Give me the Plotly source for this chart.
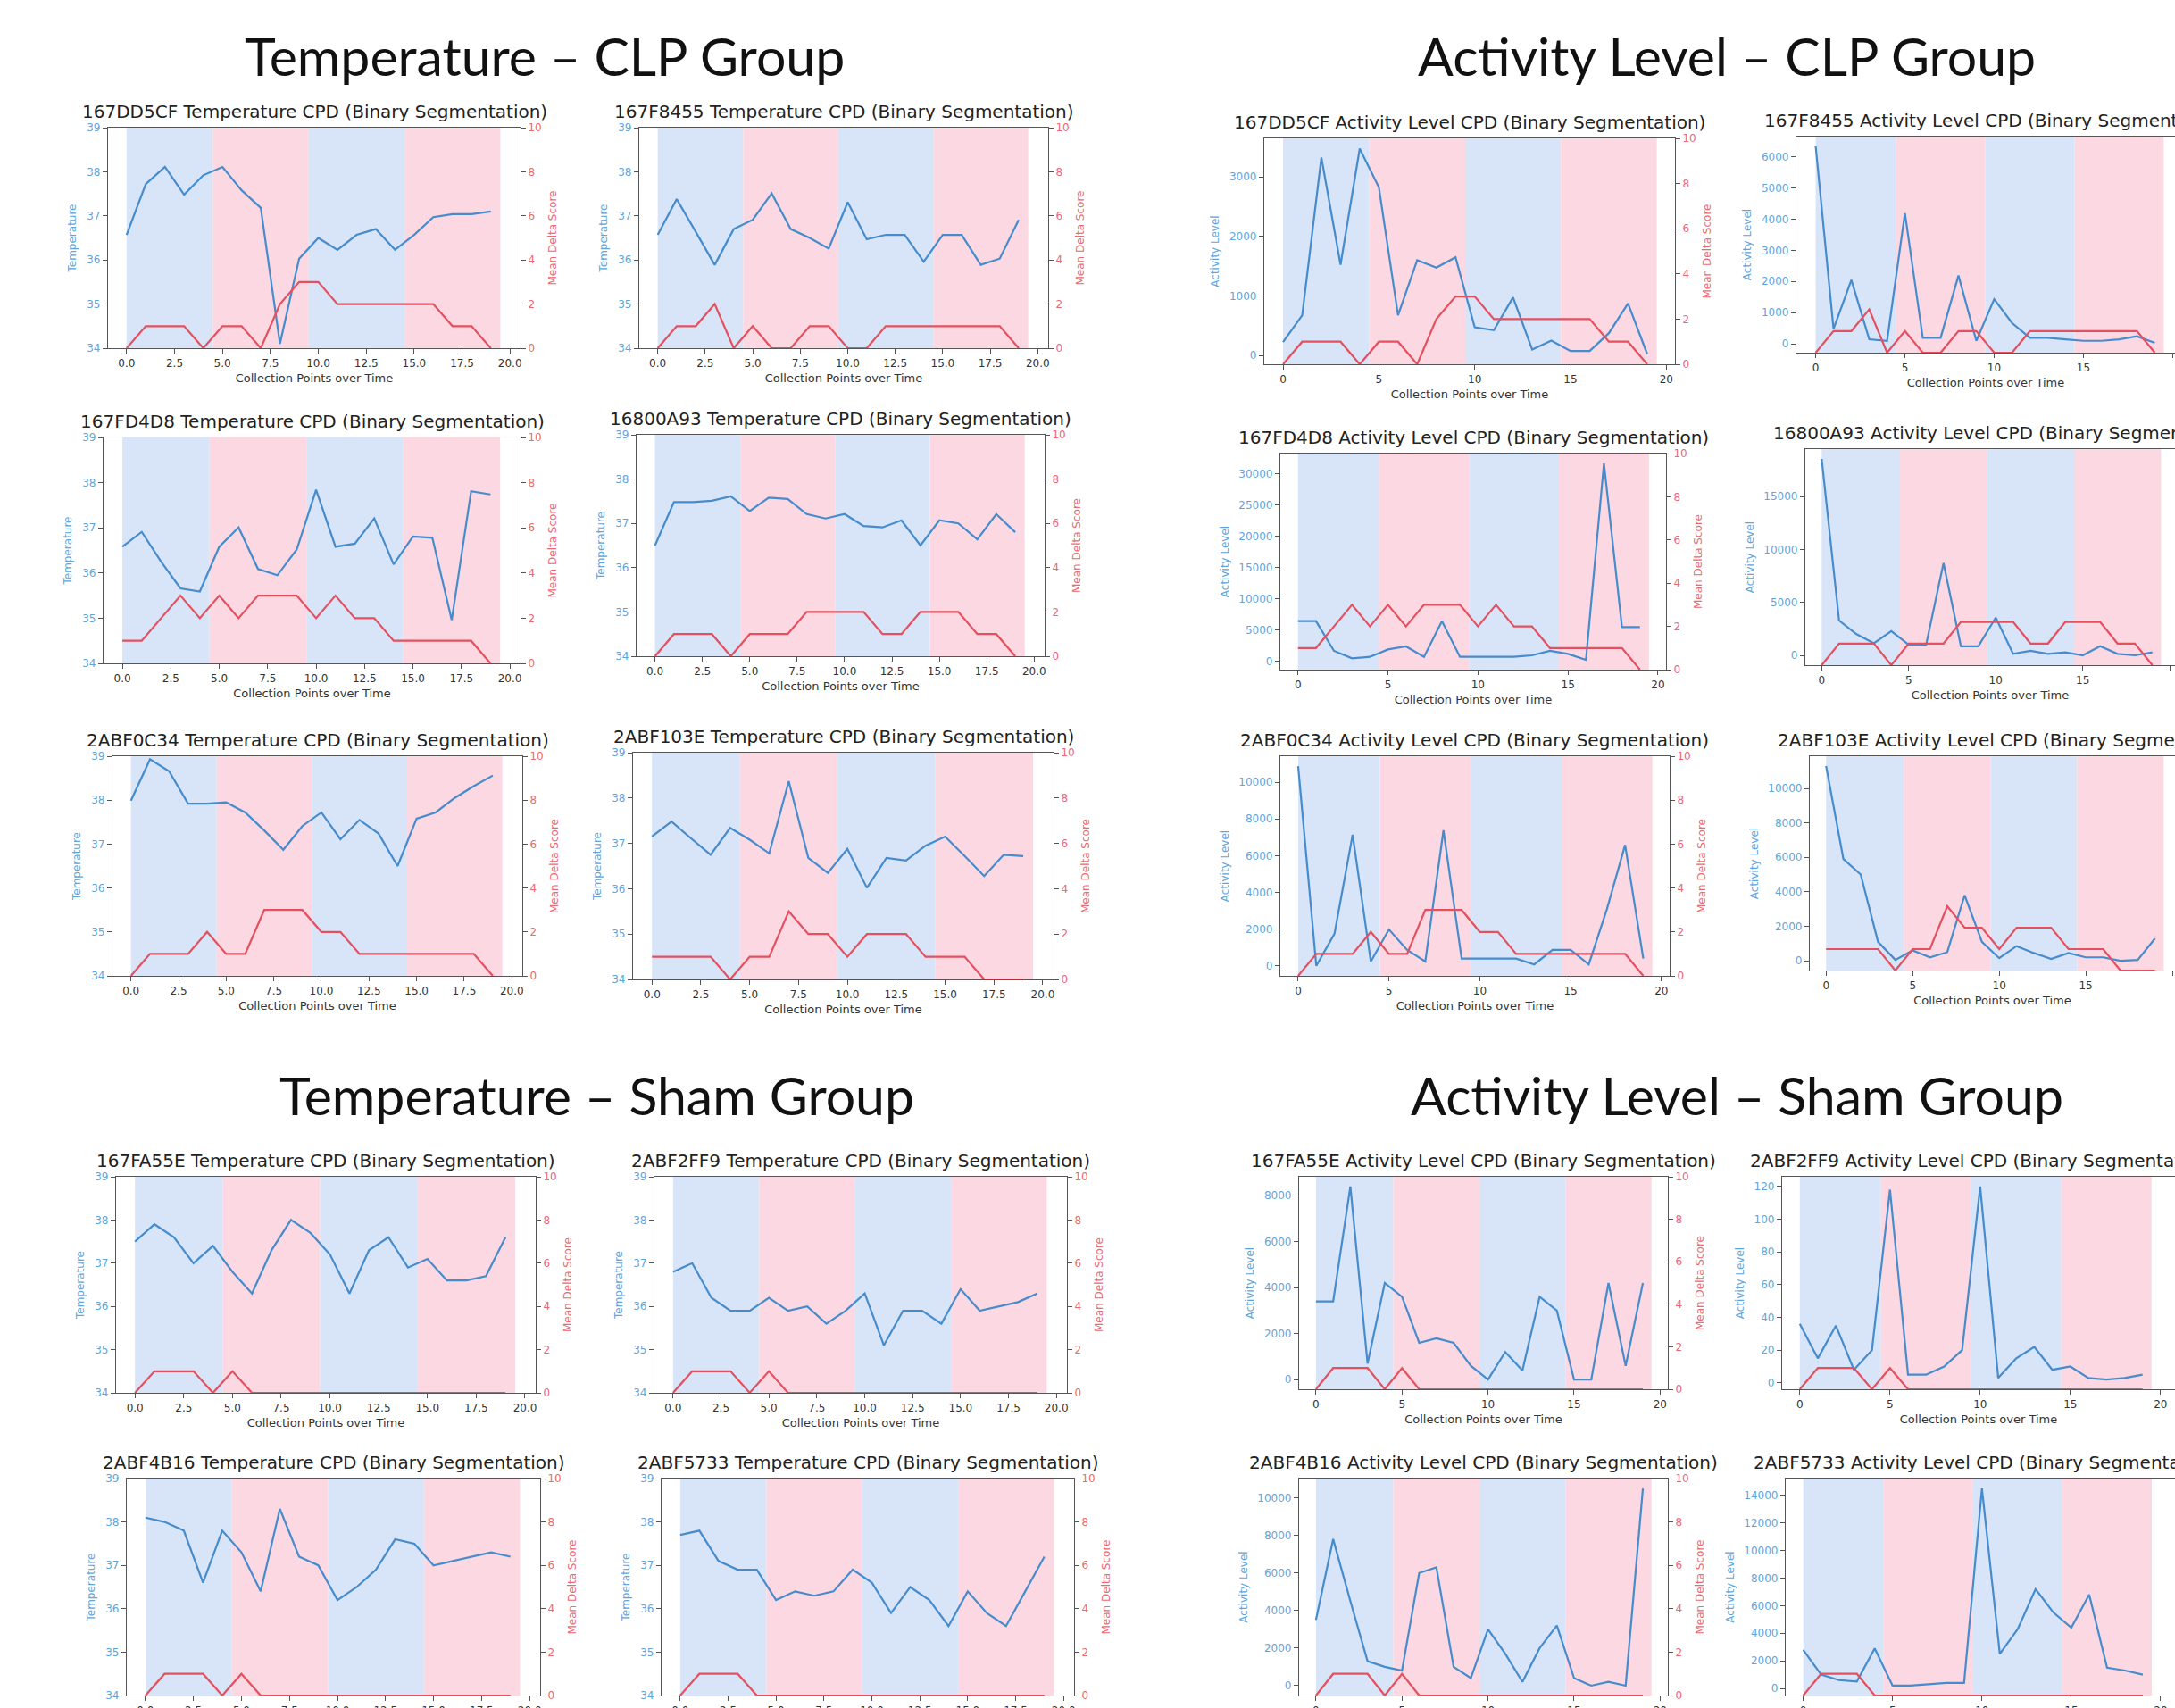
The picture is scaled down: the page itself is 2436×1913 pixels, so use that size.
import plotly.graph_objects as go

W, H = 2436, 1913

# ---------------- data ----------------
collection_points = [0, 1, 2, 3, 4, 5, 6, 7, 8, 9, 10, 11, 12, 13, 14, 15, 16, 17, 18, 19]
segment_edges = [0, 4.5, 9.5, 14.5, 19.5]

# mean delta score per mouse (shared by its temperature & activity plots)
score_167DD5CF = [0, 1, 1, 1, 0, 1, 1, 0, 2, 3, 3, 2, 2, 2, 2, 2, 2, 1, 1, 0]
score_167F8455 = [0, 1, 1, 2, 0, 1, 0, 0, 1, 1, 0, 0, 1, 1, 1, 1, 1, 1, 1, 0]
score_167FD4D8 = [1, 1, 2, 3, 2, 3, 2, 3, 3, 3, 2, 3, 2, 2, 1, 1, 1, 1, 1, 0]
score_16800A93 = [0, 1, 1, 1, 0, 1, 1, 1, 2, 2, 2, 2, 1, 1, 2, 2, 2, 1, 1, 0]
score_2ABF0C34 = [0, 1, 1, 1, 2, 1, 1, 3, 3, 3, 2, 2, 1, 1, 1, 1, 1, 1, 1, 0]
score_2ABF103E = [1, 1, 1, 1, 0, 1, 1, 3, 2, 2, 1, 2, 2, 2, 1, 1, 1, 0, 0, 0]
score_167FA55E = [0, 1, 1, 1, 0, 1, 0, 0, 0, 0, 0, 0, 0, 0, 0, 0, 0, 0, 0, 0]
score_2ABF2FF9 = [0, 1, 1, 1, 0, 1, 0, 0, 0, 0, 0, 0, 0, 0, 0, 0, 0, 0, 0, 0]
score_2ABF4B16 = [0, 1, 1, 1, 0, 1, 0, 0, 0, 0, 0, 0, 0, 0, 0, 0, 0, 0, 0, 0]
score_2ABF5733 = [0, 1, 1, 1, 0, 0, 0, 0, 0, 0, 0, 0, 0, 0, 0, 0, 0, 0, 0, 0]

# temperature
temp_167DD5CF = [36.57, 37.72, 38.11, 37.48, 37.92, 38.11, 37.58, 37.18, 34.10, 36.03,
                 36.50, 36.23, 36.57, 36.70, 36.23, 36.57, 36.97, 37.04, 37.04, 37.10]
temp_167F8455 = [36.57, 37.38, 36.64, 35.89, 36.70, 36.91, 37.51, 36.70, 36.50, 36.26,
                 37.31, 36.47, 36.57, 36.57, 35.96, 36.57, 36.57, 35.89, 36.03, 36.91]
temp_167FD4D8 = [36.58, 36.91, 36.25, 35.66, 35.59, 36.58, 37.01, 36.09, 35.95, 36.52,
                 37.84, 36.58, 36.65, 37.21, 36.19, 36.81, 36.78, 34.96, 37.81, 37.74]
temp_16800A93 = [36.50, 37.48, 37.48, 37.51, 37.61, 37.28, 37.58, 37.55, 37.21, 37.11,
                 37.21, 36.94, 36.91, 37.07, 36.50, 37.07, 37.00, 36.64, 37.21, 36.80]
temp_2ABF0C34 = [37.99, 38.93, 38.66, 37.92, 37.92, 37.95, 37.72, 37.31, 36.87, 37.41,
                 37.72, 37.11, 37.55, 37.24, 36.50, 37.58, 37.72, 38.05, 38.32, 38.56]
temp_2ABF103E = [37.15, 37.48, 37.11, 36.75, 37.34, 37.08, 36.78, 38.37, 36.68, 36.35,
                 36.88, 36.02, 36.68, 36.62, 36.95, 37.15, 36.72, 36.28, 36.75, 36.72]
temp_167FA55E = [37.5, 37.9, 37.6, 37.0, 37.4, 36.8, 36.3, 37.3, 38.0, 37.7,
                 37.2, 36.3, 37.3, 37.6, 36.9, 37.1, 36.6, 36.6, 36.7, 37.6]
temp_2ABF2FF9 = [36.8, 37.0, 36.2, 35.9, 35.9, 36.2, 35.9, 36.0, 35.6, 35.9,
                 36.3, 35.1, 35.9, 35.9, 35.6, 36.4, 35.9, 36.0, 36.1, 36.3]
temp_2ABF4B16 = [38.1, 38.0, 37.8, 36.6, 37.8, 37.3, 36.4, 38.3, 37.2, 37.0,
                 36.2, 36.5, 36.9, 37.6, 37.5, 37.0, 37.1, 37.2, 37.3, 37.2]
temp_2ABF5733 = [37.7, 37.8, 37.1, 36.9, 36.9, 36.2, 36.4, 36.3, 36.4, 36.9,
                 36.6, 35.9, 36.5, 36.2, 35.6, 36.4, 35.9, 35.6, 36.4, 37.2]

# activity level
act_167DD5CF = [225, 675, 3325, 1525, 3475, 2825, 675, 1600, 1475, 1650,
                475, 425, 975, 100, 250, 75, 75, 375, 875, 25]
act_167F8455 = [6333, 476, 2048, 143, 95, 4190, 190, 190, 2190, 95,
                1430, 667, 190, 190, 143, 95, 95, 143, 238, 30]
act_167FD4D8 = [6430, 6430, 1670, 476, 714, 1900, 2380, 714, 6430, 714,
                714, 714, 714, 950, 1670, 1190, 240, 31670, 5480, 5480]
act_16800A93 = [18570, 3290, 2000, 1140, 2290, 1000, 1000, 8710, 860, 860,
                3570, 140, 430, 140, 290, 0, 860, 140, 0, 290]
act_2ABF0C34 = [10873, 0, 1746, 7143, 238, 1984, 873, 238, 7381, 397,
                397, 397, 397, 79, 873, 873, 79, 3095, 6587, 397]
act_2ABF103E = [11300, 5900, 5000, 1100, 50, 600, 200, 500, 3800, 1100,
                150, 850, 450, 100, 450, 200, 200, 0, 50, 1300]
act_167FA55E = [3400, 3400, 8400, 700, 4200, 3600, 1600, 1800, 1600, 600,
                0, 1200, 400, 3600, 3000, 0, 0, 4200, 600, 4200]
act_2ABF2FF9 = [36, 15, 35, 8, 20, 118, 5, 5, 10, 20,
                120, 3, 15, 22, 8, 10, 3, 2, 3, 5]
act_2ABF4B16 = [3500, 7800, 4500, 1300, 1000, 800, 6000, 6300, 1000, 400,
                3000, 1700, 200, 2000, 3200, 400, 0, 200, 0, 10500]
act_2ABF5733 = [2800, 1000, 600, 500, 2900, 200, 200, 300, 400, 400,
                14500, 2500, 4300, 7200, 5500, 4400, 6800, 1500, 1300, 1000]

# ---------------- style ----------------
BLUE_LINE = "rgb(70,140,205)"
RED_LINE = "rgb(228,80,95)"
BLUE_TXT = "rgb(95,165,220)"
RED_TXT = "rgb(235,105,115)"
BLUE_BG = "rgb(216,228,248)"
PINK_BG = "rgb(252,216,226)"
SPINE = "rgb(85,85,85)"
FONT = "DejaVu Sans"

# (mouse, values, score, kind, box l,t,r,b px, x-range, cut at right edge, y tick step)
panels = [
    ("167DD5CF", temp_167DD5CF, score_167DD5CF, "temp", (121, 143, 583, 390), [-0.97, 20.55], False, 1),
    ("167F8455", temp_167F8455, score_167F8455, "temp", (716, 143, 1174, 390), [-0.97, 20.55], False, 1),
    ("167FD4D8", temp_167FD4D8, score_167FD4D8, "temp", (116, 490, 583, 743), [-0.97, 20.55], False, 1),
    ("16800A93", temp_16800A93, score_16800A93, "temp", (713, 487, 1170, 735), [-0.97, 20.55], False, 1),
    ("2ABF0C34", temp_2ABF0C34, score_2ABF0C34, "temp", (126, 847, 585, 1093), [-0.97, 20.55], False, 1),
    ("2ABF103E", temp_2ABF103E, score_2ABF103E, "temp", (709, 843, 1180, 1097), [-0.97, 20.55], False, 1),
    ("167DD5CF", act_167DD5CF, score_167DD5CF, "act", (1416, 155, 1876, 408), [-0.98, 20.45], False, 1000),
    ("167F8455", act_167F8455, score_167F8455, "act", (2012, 153, 2436, 395), [-1.08, 20.13], True, 1000),
    ("167FD4D8", act_167FD4D8, score_167FD4D8, "act", (1434, 508, 1866, 750), [-0.98, 20.45], False, 5000),
    ("16800A93", act_16800A93, score_16800A93, "act", (2022, 503, 2436, 745), [-0.94, 20.3], True, 5000),
    ("2ABF0C34", act_2ABF0C34, score_2ABF0C34, "act", (1434, 847, 1870, 1093), [-0.98, 20.45], False, 2000),
    ("2ABF103E", act_2ABF103E, score_2ABF103E, "act", (2027, 847, 2436, 1087), [-0.94, 20.15], True, 2000),
    ("167FA55E", temp_167FA55E, score_167FA55E, "temp", (130, 1318, 600, 1560), [-0.97, 20.55], False, 1),
    ("2ABF2FF9", temp_2ABF2FF9, score_2ABF2FF9, "temp", (733, 1318, 1195, 1560), [-0.97, 20.55], False, 1),
    ("2ABF4B16", temp_2ABF4B16, score_2ABF4B16, "temp", (142, 1656, 605, 1899), [-0.97, 20.55], False, 1),
    ("2ABF5733", temp_2ABF5733, score_2ABF5733, "temp", (741, 1656, 1203, 1899), [-0.97, 20.55], False, 1),
    ("167FA55E", act_167FA55E, score_167FA55E, "act", (1455, 1318, 1868, 1556), [-0.98, 20.45], False, 2000),
    ("2ABF2FF9", act_2ABF2FF9, score_2ABF2FF9, "act", (1996, 1318, 2436, 1556), [-0.98, 20.8], True, 20),
    ("2ABF4B16", act_2ABF4B16, score_2ABF4B16, "act", (1455, 1656, 1868, 1899), [-0.98, 20.45], False, 2000),
    ("2ABF5733", act_2ABF5733, score_2ABF5733, "act", (2000, 1656, 2436, 1899), [-0.98, 20.8], True, 2000),
]

group_titles = [
    ("Temperature \u2013 CLP Group", 610, 62),
    ("Activity Level \u2013 CLP Group", 1934, 62),
    ("Temperature \u2013 Sham Group", 668, 1226),
    ("Activity Level \u2013 Sham Group", 1945, 1226),
]

fig = go.Figure()
layout = dict(
    width=W, height=H, margin=dict(l=0, r=0, t=0, b=0, autoexpand=False),
    paper_bgcolor="white", plot_bgcolor="white", showlegend=False,
    font=dict(family=FONT, color="#222"),
)
shapes, annotations = [], []

for i, (mouse, vals, score, kind, box, xr, cut, ystep) in enumerate(panels, start=1):
    l, t, r, b = box
    xa, ya, yb = i, 2 * i - 1, 2 * i
    xname = "xaxis" if xa == 1 else f"xaxis{xa}"
    yname = "yaxis" if ya == 1 else f"yaxis{ya}"
    y2name = f"yaxis{yb}"
    xref = "x" if xa == 1 else f"x{xa}"
    yref = "y" if ya == 1 else f"y{ya}"
    y2ref = f"y{yb}"

    if kind == "temp":
        xtick = dict(tickmode="linear", tick0=0, dtick=2.5, tickformat=".1f")
        yrange = [34, 39]
        ytick = dict(tickmode="linear", tick0=34, dtick=ystep)
        ytitle = "Temperature"
    else:
        xtick = dict(tickmode="linear", tick0=0, dtick=5)
        lo, hi = min(vals), max(vals)
        pad = 0.05 * (hi - lo)
        yrange = [lo - pad, hi + pad]
        ytick = dict(tickmode="linear", tick0=0, dtick=ystep, tickformat="d")
        ytitle = "Activity Level"

    # bottom-row panels run off the lower edge of the picture: their x title lies outside it
    xtitle = "Collection Points over Time" if b < 1850 else ""

    layout[xname] = dict(
        domain=[l / W, min(r, W) / W], anchor=yref, range=xr, **xtick, automargin=False,
        showgrid=False, zeroline=False, showline=True, mirror=True,
        linecolor=SPINE, linewidth=1.3, ticks="outside", ticklen=5, tickcolor=SPINE,
        tickfont=dict(size=12, color="#333"),
        title=dict(text=xtitle, font=dict(size=13, color="#333"), standoff=6),
    )
    layout[yname] = dict(
        domain=[1 - b / H, 1 - t / H], anchor=xref, range=yrange, **ytick, automargin=False,
        showgrid=False, zeroline=False, showline=True, mirror=not cut,
        linecolor=SPINE, linewidth=1.3, ticks="outside", ticklen=5, tickcolor=SPINE,
        tickfont=dict(size=12, color=BLUE_TXT),
        title=dict(text=ytitle, font=dict(size=12, color=BLUE_TXT), standoff=8),
    )
    layout[y2name] = dict(
        overlaying=yref, side="right", anchor=xref, range=[0, 10], automargin=False,
        tickmode="linear", tick0=0, dtick=2, showgrid=False, zeroline=False,
        ticks="outside", ticklen=5, tickcolor=SPINE, visible=not cut,
        tickfont=dict(size=12, color=RED_TXT),
        title=dict(text="Mean Delta Score", font=dict(size=12, color=RED_TXT), standoff=8),
    )

    for k in range(len(segment_edges) - 1):
        shapes.append(dict(
            type="rect", xref=xref, yref=f"{yref} domain",
            x0=segment_edges[k], x1=segment_edges[k + 1], y0=0, y1=1,
            fillcolor=BLUE_BG if k % 2 == 0 else PINK_BG, line=dict(width=0), layer="below",
        ))

    fig.add_trace(go.Scatter(x=collection_points, y=vals, xaxis=xref, yaxis=yref,
                             mode="lines", line=dict(color=BLUE_LINE, width=2.2),
                             hoverinfo="skip"))
    fig.add_trace(go.Scatter(x=collection_points, y=score, xaxis=xref, yaxis=y2ref,
                             mode="lines", line=dict(color=RED_LINE, width=2.2),
                             hoverinfo="skip"))

    label = "Temperature" if kind == "temp" else "Activity Level"
    title_text = f"{mouse} {label} CPD (Binary Segmentation)"
    if cut:
        annotations.append(dict(text=title_text, xref="paper", yref="paper",
                                x=(l - 38) / W, y=1 - (t - 18) / H, xanchor="left", yanchor="middle",
                                showarrow=False, font=dict(size=20, color="#222")))
    else:
        annotations.append(dict(text=title_text, xref="paper", yref="paper",
                                x=(l + r) / 2 / W, y=1 - (t - 18) / H, xanchor="center", yanchor="middle",
                                showarrow=False, font=dict(size=20, color="#222")))

for text, cx, cy in group_titles:
    annotations.append(dict(text=text, xref="paper", yref="paper", x=cx / W, y=1 - cy / H,
                            xanchor="center", yanchor="middle", showarrow=False,
                            font=dict(size=59, family="Lato", color="#111")))

layout["shapes"] = shapes
layout["annotations"] = annotations
fig.update_layout(**layout)

post = (
    "var de=document.documentElement, bd=document.body;"
    "de.style.margin='0';de.style.padding='0';de.style.overflow='hidden';"
    "bd.style.margin='0';bd.style.padding='0';bd.style.overflow='hidden';"
)
fig.write_html("out.html", config={"displayModeBar": False}, post_script=post)
